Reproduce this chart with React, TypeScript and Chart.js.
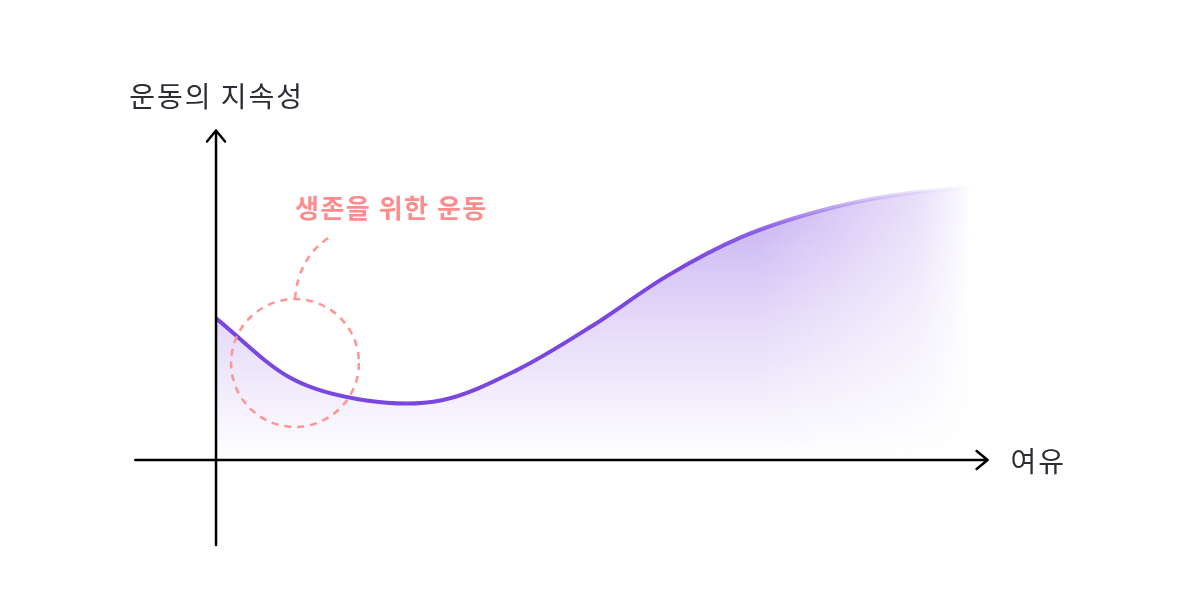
import { useEffect, useRef } from "react"
import { Chart, registerables } from "chart.js"

Chart.register(...registerables)

// 여유 (x) vs 운동의 지속성 (y), arbitrary units
const slackValues = [0, 1, 2, 3, 4, 5, 6, 7, 8, 9, 10]
const sustainValues = [5.17, 2.98, 2.17, 2.18, 3.28, 4.89, 6.72, 8.15, 9.07, 9.66, 9.98]

const xAxisLabel = "여유"
const yAxisLabel = "운동의 지속성"
const noteLabel = "생존을 위한 운동"

// annotation circle in data units
const noteCircle = { x: 1.05, y: 3.54, r: 0.85 }

const LINE = "122, 70, 224"
const FONT = "'Noto Sans CJK KR', 'Noto Sans', sans-serif"

const decorPlugin = {
  id: "decor",
  afterDatasetsDraw(chart: Chart) {
    const { ctx, scales } = chart
    const xs = scales.x
    const ys = scales.y
    const y0 = ys.getPixelForValue(0)
    const xEnd = xs.getPixelForValue(10)
    const xFade = xs.getPixelForValue(7.2)
    const yTop = ys.getPixelForValue(10.4)

    // fade the right end of the area
    ctx.save()
    const fade = ctx.createLinearGradient(xFade, 0, xEnd + 2, 0)
    fade.addColorStop(0, "rgba(255,255,255,0)")
    fade.addColorStop(0.75, "rgba(255,255,255,0.6)")
    fade.addColorStop(1, "rgba(255,255,255,0.97)")
    ctx.fillStyle = fade
    ctx.fillRect(xFade, yTop, xEnd + 2 - xFade, y0 - yTop - 1)
    ctx.fillStyle = "#fff"
    ctx.fillRect(xEnd + 2, yTop, 20, y0 - yTop - 1)
    ctx.restore()
  },
  afterDraw(chart: Chart) {
    const { ctx, scales } = chart
    const xs = scales.x
    const ys = scales.y
    const x0 = xs.getPixelForValue(0)
    const y0 = ys.getPixelForValue(0)
    const left = xs.left
    const right = xs.right - 3
    const top = ys.top + 2
    const bottom = ys.bottom

    ctx.save()
    ctx.strokeStyle = "#000"
    ctx.lineWidth = 2.5
    ctx.lineCap = "round"
    ctx.lineJoin = "round"
    // y axis
    ctx.beginPath()
    ctx.moveTo(x0, bottom)
    ctx.lineTo(x0, top)
    ctx.moveTo(x0 - 9, top + 11)
    ctx.lineTo(x0, top)
    ctx.lineTo(x0 + 9, top + 11)
    ctx.stroke()
    // x axis
    ctx.beginPath()
    ctx.moveTo(left + 2, y0)
    ctx.lineTo(right, y0)
    ctx.moveTo(right - 11, y0 - 9)
    ctx.lineTo(right, y0)
    ctx.lineTo(right - 11, y0 + 9)
    ctx.stroke()

    // axis labels
    ctx.fillStyle = "#2d2d35"
    ctx.font = `400 28px ${FONT}`
    ctx.letterSpacing = "2px"
    ctx.textBaseline = "middle"
    ctx.textAlign = "left"
    ctx.fillText(xAxisLabel, right + 23, y0 + 1)
    ctx.fillText(yAxisLabel, left - 4, 96)

    // annotation
    const cx = xs.getPixelForValue(noteCircle.x)
    const cy = ys.getPixelForValue(noteCircle.y)
    const r = xs.getPixelForValue(noteCircle.x + noteCircle.r) - cx
    ctx.strokeStyle = "#ff9592"
    ctx.lineWidth = 2.5
    ctx.lineCap = "butt"
    ctx.setLineDash([7, 6])
    ctx.beginPath()
    ctx.arc(cx, cy, r, 0, Math.PI * 2)
    ctx.stroke()
    ctx.beginPath()
    ctx.moveTo(cx, cy - r)
    ctx.quadraticCurveTo(cx + 3, cy - r - 42, cx + 36, cy - r - 63)
    ctx.stroke()
    ctx.setLineDash([])

    ctx.fillStyle = "#ff8c8c"
    ctx.font = `700 26px ${FONT}`
    ctx.letterSpacing = "1.5px"
    ctx.textAlign = "left"
    ctx.fillText(noteLabel, cx, 208)
    ctx.restore()
  },
}

export default function App() {
  const chartRef = useRef<HTMLCanvasElement>(null)
  const chartInstance = useRef<Chart | null>(null)

  useEffect(() => {
    if (!chartRef.current) return
    const ctx = chartRef.current.getContext("2d")
    if (!ctx) return

    const points = slackValues.map((x, i) => ({ x, y: sustainValues[i] }))

    chartInstance.current = new Chart(ctx, {
      type: "line",
      data: {
        datasets: [
          {
            data: points,
            borderWidth: 4,
            pointRadius: 0,
            tension: 0.33,
            fill: "origin",
            borderColor: (context) => {
              const { chart } = context
              const { chartArea, scales } = chart
              if (!chartArea || !scales.x) return `rgb(${LINE})`
              const a = scales.x.getPixelForValue(0)
              const b = scales.x.getPixelForValue(10)
              if (!isFinite(a) || !isFinite(b)) return `rgb(${LINE})`
              const g = chart.ctx.createLinearGradient(a, 0, b, 0)
              g.addColorStop(0, `rgba(${LINE},1)`)
              g.addColorStop(0.62, `rgba(${LINE},1)`)
              g.addColorStop(0.8, `rgba(${LINE},0.7)`)
              g.addColorStop(1, `rgba(${LINE},0.15)`)
              return g
            },
            backgroundColor: (context) => {
              const { chart } = context
              const { chartArea, scales } = chart
              if (!chartArea || !scales.y) return `rgba(${LINE},0.2)`
              const a = scales.y.getPixelForValue(10)
              const b = scales.y.getPixelForValue(0)
              if (!isFinite(a) || !isFinite(b)) return `rgba(${LINE},0.2)`
              const g = chart.ctx.createLinearGradient(0, a, 0, b)
              g.addColorStop(0, `rgba(${LINE},0.45)`)
              g.addColorStop(0.5, `rgba(${LINE},0.2)`)
              g.addColorStop(1, `rgba(${LINE},0)`)
              return g
            },
          },
        ],
      },
      options: {
        animation: false,
        responsive: true,
        maintainAspectRatio: false,
        layout: { padding: { left: 133.3, right: 209.4, top: 128.5, bottom: 55.1 } },
        plugins: {
          legend: { display: false },
          tooltip: { enabled: false },
        },
        scales: {
          x: { type: "linear", min: -1.1, max: 10.3, display: false },
          y: { type: "linear", min: -3.1, max: 12.1, display: false },
        },
      },
      plugins: [decorPlugin],
    })

    return () => {
      if (chartInstance.current) {
        chartInstance.current.destroy()
      }
    }
  }, [])

  return (
    <div style={{ position: "absolute", left: 0, top: 0, width: 1200, height: 600, background: "#fff" }}>
      <canvas ref={chartRef} />
    </div>
  )
}
